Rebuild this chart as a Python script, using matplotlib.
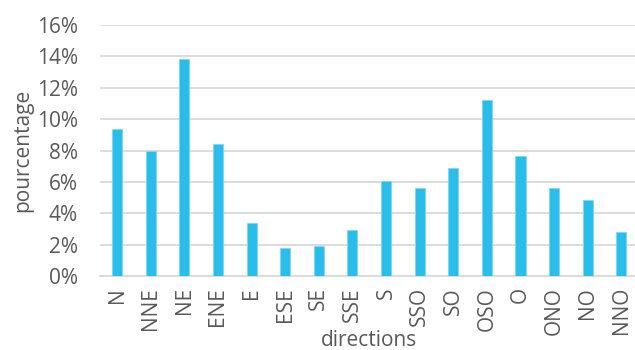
import numpy as np
import matplotlib.pyplot as plt

# Wind direction frequencies
directions = ["N", "NNE", "NE", "ENE", "E", "ESE", "SE", "SSE",
              "S", "SSO", "SO", "OSO", "O", "ONO", "NO", "NNO"]
pourcentage = [9.4, 7.95, 13.85, 8.4, 3.4, 1.8, 1.9, 2.95,
               6.05, 5.6, 6.9, 11.2, 7.65, 5.6, 4.85, 2.8]
yticks = [0, 2, 4, 6, 8, 10, 12, 14, 16]

plt.rcParams['font.family'] = ['Open Sans', 'DejaVu Sans']
grey = "#595959"

fig = plt.figure(figsize=(6.35, 3.5), dpi=100)
ax = fig.add_axes([0.158, 0.2114, 0.847, 0.7171])

x = np.arange(len(directions))
ax.bar(x, pourcentage, width=0.3, color="#29bdea", edgecolor="#7fd6f2",
       linewidth=0.6, zorder=3)

ax.set_xlim(-0.5, len(directions) - 0.5)
ax.set_ylim(0, 16)
ax.set_yticks(yticks)
ax.set_yticklabels([f"{v}%" for v in yticks])
ax.set_xticks(x)
ax.set_xticklabels(directions, rotation=90)

ax.grid(axis="y", color="#d9d9d9", linewidth=1.3, zorder=0)
for s in ["top", "right", "left"]:
    ax.spines[s].set_visible(False)
ax.spines["bottom"].set_color("#d9d9d9")
ax.spines["bottom"].set_linewidth(1.3)
ax.tick_params(length=0, labelsize=15, colors=grey)
ax.tick_params(axis="y", pad=16)
ax.tick_params(axis="x", pad=8)

ax.set_ylabel("pourcentage", fontsize=15, color=grey)
ax.set_xlabel("directions", fontsize=15, color=grey)
ax.yaxis.set_label_coords(-0.125, 0.5)
ax.xaxis.set_label_coords(0.5, -0.215)

fig.savefig("out.png", dpi=100)
